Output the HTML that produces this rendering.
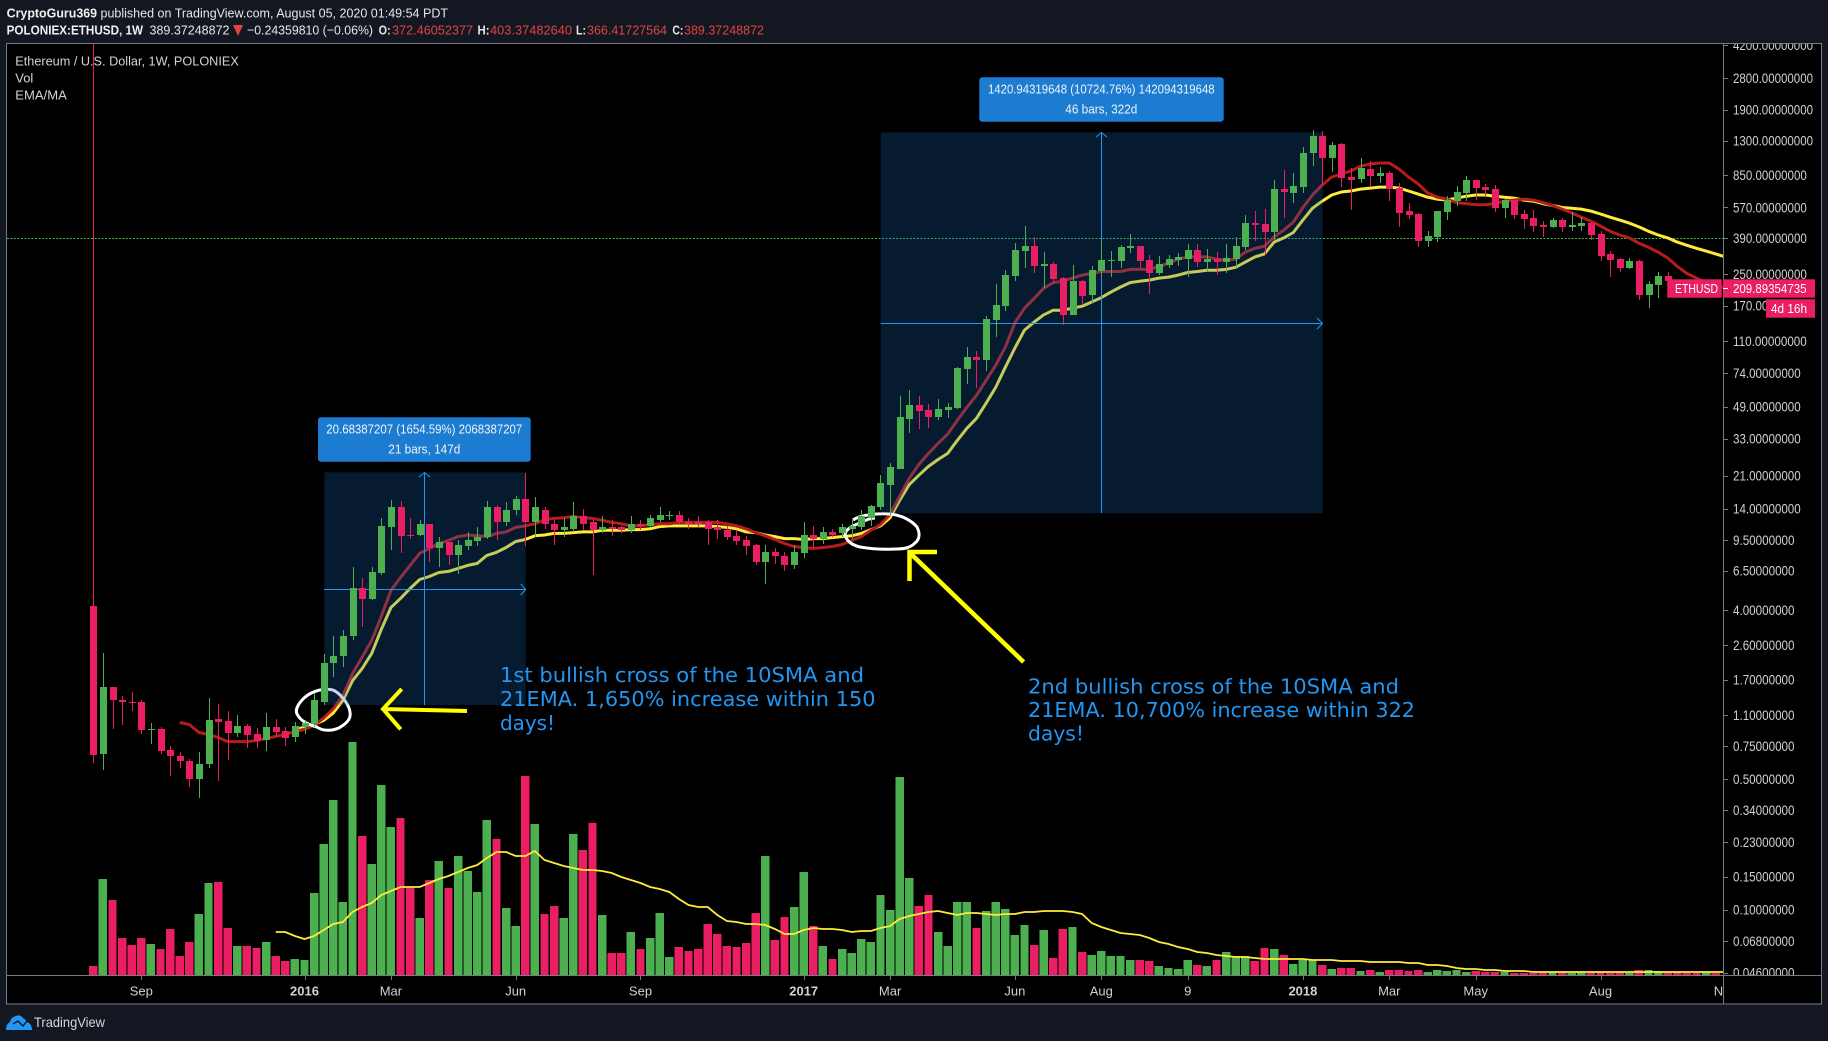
<!DOCTYPE html>
<html lang="en">
<head>
<meta charset="utf-8">
<title>ETHUSD weekly chart</title>
<style>
html,body{margin:0;padding:0;background:#131722;width:1828px;height:1041px;overflow:hidden}
svg{display:block;font-family:"Liberation Sans",sans-serif}
</style>
</head>
<body>
<svg id="chart" xmlns="http://www.w3.org/2000/svg" width="1828" height="1041" viewBox="0 0 1828 1041">
<defs>
<clipPath id="plotClip"><rect x="7" y="44" width="1716" height="931"/></clipPath>
<clipPath id="axisClip"><rect x="1724" y="44" width="97" height="931"/></clipPath>
<clipPath id="timeClip"><rect x="7" y="976" width="1716" height="28"/></clipPath>
</defs>
<rect x="0" y="0" width="1828" height="1041" fill="#131722"/>
<g font-size="13" fill="#e6e6e6">
<text x="6.6" y="17.5" font-weight="bold" fill="#f0f0f0" textLength="90.5" lengthAdjust="spacingAndGlyphs">CryptoGuru369</text>
<text x="100.5" y="17.5" textLength="347.5" lengthAdjust="spacingAndGlyphs">published on TradingView.com, August 05, 2020 01:49:54 PDT</text>
</g>
<g font-size="13" fill="#e6e6e6">
<text x="6.6" y="34.5" font-weight="bold" fill="#f0f0f0" textLength="136.5" lengthAdjust="spacingAndGlyphs">POLONIEX:ETHUSD, 1W</text>
<text x="149.5" y="34.5" textLength="80" lengthAdjust="spacingAndGlyphs">389.37248872</text>
<polygon points="233,25 243,25 238,36" fill="#e0443e"/>
<text x="247" y="34.5" textLength="126" lengthAdjust="spacingAndGlyphs">−0.24359810 (−0.06%)</text>
<text x="378.6" y="34.5" font-weight="bold" textLength="12" lengthAdjust="spacingAndGlyphs">O:</text>
<text x="392" y="34.5" fill="#e0443e" textLength="81" lengthAdjust="spacingAndGlyphs">372.46052377</text>
<text x="477.5" y="34.5" font-weight="bold" textLength="12" lengthAdjust="spacingAndGlyphs">H:</text>
<text x="490" y="34.5" fill="#e0443e" textLength="82" lengthAdjust="spacingAndGlyphs">403.37482640</text>
<text x="576" y="34.5" font-weight="bold" textLength="10" lengthAdjust="spacingAndGlyphs">L:</text>
<text x="587" y="34.5" fill="#e0443e" textLength="80" lengthAdjust="spacingAndGlyphs">366.41727564</text>
<text x="672.4" y="34.5" font-weight="bold" textLength="11" lengthAdjust="spacingAndGlyphs">C:</text>
<text x="684" y="34.5" fill="#e0443e" textLength="80" lengthAdjust="spacingAndGlyphs">389.37248872</text>
</g>
<rect x="6.5" y="43.5" width="1815" height="960.5" fill="#000" stroke="#787b86" stroke-width="1"/>
<g id="plot" clip-path="url(#plotClip)"></g>
<g id="axis"></g>
<g id="time"></g>
<g stroke="#787b86" stroke-width="1">
<line x1="1723.5" y1="44" x2="1723.5" y2="1004"/>
<line x1="7" y1="975.5" x2="1821" y2="975.5"/>
</g>
<g font-size="13" fill="#d1d4dc">
<text x="15.3" y="65.3" textLength="223.5" lengthAdjust="spacingAndGlyphs">Ethereum / U.S. Dollar, 1W, POLONIEX</text>
<text x="15.3" y="82.3" textLength="18" lengthAdjust="spacingAndGlyphs">Vol</text>
<text x="15.3" y="99.3" textLength="51.5" lengthAdjust="spacingAndGlyphs">EMA/MA</text>
</g>
<g font-size="13" fill="#fff">
<rect x="1667.3" y="279.3" width="54.4" height="18.4" fill="#e91e63"/>
<text x="1675" y="293" textLength="43" lengthAdjust="spacingAndGlyphs">ETHUSD</text>
<rect x="1723" y="279.3" width="92" height="18.4" fill="#e91e63"/>
<line x1="1723" y1="288.5" x2="1728" y2="288.5" stroke="#fff"/>
<text x="1733" y="293" textLength="73.5" lengthAdjust="spacingAndGlyphs">209.89354735</text>
<rect x="1766" y="299.3" width="49" height="18.4" fill="#e91e63"/>
<text x="1771" y="313.2" textLength="36" lengthAdjust="spacingAndGlyphs">4d 16h</text>
</g>
<g font-family="'DejaVu Sans',sans-serif" font-size="20" fill="#2196f3">
<text x="500" y="682.2" textLength="364" lengthAdjust="spacingAndGlyphs">1st bullish cross of the 10SMA and</text>
<text x="500" y="706.2" textLength="375.5" lengthAdjust="spacingAndGlyphs">21EMA. 1,650% increase within 150</text>
<text x="500" y="730" textLength="55" lengthAdjust="spacingAndGlyphs">days!</text>
<text x="1028" y="693.5" textLength="371" lengthAdjust="spacingAndGlyphs">2nd bullish cross of the 10SMA and</text>
<text x="1028" y="717" textLength="387" lengthAdjust="spacingAndGlyphs">21EMA. 10,700% increase within 322</text>
<text x="1028" y="740.5" textLength="56" lengthAdjust="spacingAndGlyphs">days!</text>
</g>
<g fill="none" stroke="#ffff00" stroke-width="4">
<path d="M467,711 L382,709 M401.7,689 L383,709 L400.7,729.3"/>
</g>
<g fill="none" stroke="#ffff00" stroke-width="4.5">
<path d="M1023.6,662 L911,554 M937,552 L909.5,552 L909.5,581"/>
</g>
<g>
<rect x="318" y="417.3" width="212.7" height="44.4" rx="3" fill="#1c7cd2"/>
<text x="424.3" y="433.3" text-anchor="middle" font-size="13" fill="#f2f2f2" textLength="196" lengthAdjust="spacingAndGlyphs">20.68387207 (1654.59%) 2068387207</text>
<text x="424.3" y="453.3" text-anchor="middle" font-size="13" fill="#f2f2f2" textLength="72" lengthAdjust="spacingAndGlyphs">21 bars, 147d</text>
</g>
<g>
<rect x="979.3" y="77.3" width="244.4" height="44.4" rx="3" fill="#1c7cd2"/>
<text x="1101.3" y="93.3" text-anchor="middle" font-size="13" fill="#f2f2f2" textLength="226.7" lengthAdjust="spacingAndGlyphs">1420.94319648 (10724.76%) 142094319648</text>
<text x="1101.3" y="113.3" text-anchor="middle" font-size="13" fill="#f2f2f2" textLength="72" lengthAdjust="spacingAndGlyphs">46 bars, 322d</text>
</g>
<g>
<path d="M6,1030 Q6,1024 10,1022 Q11,1017 16,1016 Q20,1014 23,1018 Q26,1020 27,1022 Q32,1024 32,1030 Z" fill="#2196f3"/>
<path d="M13,1024 L18,1021 L23,1026 L27,1021" fill="none" stroke="#131722" stroke-width="1.4"/>
<text x="34" y="1027" font-size="14" fill="#d6d6d6" textLength="71" lengthAdjust="spacingAndGlyphs">TradingView</text>
</g>
</svg>
<script>
// Weekly ETHUSD data. Index 0 is the first weekly bar.
const opens=[4.19,.685,1.56,1.33,1.30,1.29,.91,.922,.72,.661,.628,.503,.605,1.05,1.02,.877,.957,.867,.814,.945,.899,.835,.945,.98,1.30,2.10,2.27,2.90,5.23,4.57,6.29,11.2,14.3,10.1,10.1,11.5,8.66,9.22,7.86,8.77,9.33,9.8,14.2,11.9,13.7,15.7,11.9,13.7,11.6,10.7,10.9,12.7,11.8,10.7,11.1,11.1,10.7,11.5,11.3,12.1,12.8,13.0,11.9,11.8,11.8,11.2,10.8,10.0,9.45,8.88,7.21,8.16,7.76,6.95,8.06,10.1,9.56,10.5,10.3,10.9,11.2,12.5,14.3,18.8,22.9,42.0,50.0,46.9,43.0,46.9,48.1,77.8,90.2,86.9,143,169,245,333,354,276,283,239,152,230,194,260,294,294,345,354,298,253,280,298,302,337,291,302,291,302,349,470,465,419,715,681,733,1116,1373,1048,1243,830,809,915,840,870,724,545,526,376,397,538,616,681,799,733,715,565,624,526,500,459,449,488,449,454,470,412,322,302,269,294,194,220,245,230,223,217,209,212];
const highs=[5000,2.35,1.56,1.40,1.47,1.32,.992,.945,.756,.694,.644,.694,1.35,1.257,1.16,1.10,.98,.934,1.13,1.05,.945,1.005,1.04,1.45,2.32,2.90,3.12,6.78,5.92,6.78,12.5,15.5,15.3,12.4,12.2,11.5,9.8,9.22,9.45,10.5,11.1,15.3,14.7,15.1,16.3,21.6,16.1,14.3,12.2,12.5,15.1,14.0,12.1,12.7,12.1,11.3,12.8,12.2,13.0,14.3,13.5,13.5,12.5,12.8,12.1,12.1,11.3,10.7,10.0,8.99,8.88,8.66,8.16,8.88,11.9,11.3,11.1,10.9,11.6,12.2,13.7,14.7,21.1,24.4,55.8,60.0,55.8,50.6,53.7,51.2,79.7,102,97,149,223,263,367,454,397,329,290,242,280,233,276,381,333,358,412,354,317,313,317,325,363,363,341,329,363,397,519,545,559,799,904,870,1200,1480,1462,1275,1258,926,1048,1010,938,893,771,605,533,425,545,655,741,840,799,762,752,632,624,552,552,482,500,500,538,506,476,425,333,306,306,298,230,256,259,233,226,223,218,215];
const lows=[.613,.562,.922,.969,1.15,.867,.775,.685,.522,.573,.456,.398,.576,.491,.636,.835,.729,.738,.711,.835,.756,.794,.867,.945,1.24,1.76,2.00,2.76,3.24,4.51,6.14,8.45,8.06,9.56,10.0,7.21,6.78,6.95,6.22,8.36,8.77,9.67,9.45,11.3,13.0,8.77,9.8,10.9,8.88,9.8,10.5,10.8,6.14,10.4,10.0,10.4,10.4,10.8,11.1,11.8,12.2,11.6,10.9,11.1,8.88,9.56,9.45,8.88,7.86,6.95,5.56,7.03,6.45,6.61,7.57,8.66,8.99,9.9,9.8,9.56,10.7,11.3,13.8,13.0,22.7,35.4,37.1,37.6,41.5,42.5,47.5,64.7,61.5,75.9,116,159,230,269,253,211,226,134,152,173,176,242,243,269,325,269,196,248,269,276,243,273,259,248,253,266,337,376,317,381,500,600,681,948,751,880,733,552,770,741,770,616,449,494,349,349,372,488,580,616,624,656,538,500,494,437,419,397,443,419,425,425,381,294,243,256,266,182,165,188,226,206,187,206,204,205];
const closes=[.669,1.56,1.32,1.29,1.27,.91,.922,.711,.661,.628,.503,.605,1.04,1.005,.877,.957,.856,.804,.945,.888,.825,.957,.992,1.32,2.10,2.29,2.93,5.23,4.57,6.37,11.3,14.3,10.0,10.0,11.5,8.66,9.22,7.86,8.88,9.45,9.9,14.2,11.9,13.8,15.7,11.9,14.3,11.5,10.7,11.1,12.7,11.6,10.7,11.1,10.9,10.7,11.5,11.3,12.4,13.0,13.0,11.8,11.6,11.6,10.9,10.7,9.9,9.33,8.77,7.21,8.16,7.76,6.95,8.16,10.1,9.56,10.5,10.1,11.1,11.3,12.7,14.5,19.1,23.2,43.0,50.0,46.3,43.0,47.5,48.7,78.8,90.2,86.9,145,171,248,337,354,276,283,236,152,230,191,263,298,298,349,354,294,253,283,302,310,337,291,302,291,306,354,470,459,419,715,690,741,1116,1373,1048,1228,820,799,926,840,870,715,533,519,376,401,545,624,690,799,724,706,565,624,519,494,454,449,488,449,459,470,406,314,298,269,294,194,223,245,230,223,217,212,212,210];
const volumes=[9,96,75,37,30,37,31,26,46,19,33,61,92,93,47,29,29,27,33,19,14,16,15,82,131,175,73,233,139,111,190,148,157,87,57,95,114,87,119,104,83,155,136,67,49,199,151,61,69,57,141,125,152,60,22,22,43,26,37,62,18,28,24,26,51,41,29,28,32,62,119,35,58,68,103,49,29,16,26,22,36,33,80,65,198,97,69,80,43,29,73,73,47,64,73,66,40,50,30,45,17,46,48,23,20,24,19,19,15,15,14,9,7,6,15,10,9,15,23,19,19,14,27,26,20,11,15,15,10,6,7,7,4,5,3,5,5,4,5,3,5,4,5,3,4,3,3,3,2,2,2,3,3,3,2,3,2,3,2,3,2,5,5,4,3,3,2,2,3,2];
const sma10Start=9;
const sma10=[1.005,.98,.888,.867,.835,.794,.794,.794,.804,.825,.846,.867,.899,.922,.969,1.06,1.19,1.40,1.83,2.24,2.76,3.71,5.10,5.99,6.95,8.06,8.56,9.10,9.45,9.9,10.1,10.0,9.9,10.3,10.5,11.1,11.3,11.6,12.2,12.4,12.5,12.7,12.5,12.4,12.1,11.8,11.6,11.3,11.3,11.5,11.6,11.6,11.8,11.8,11.8,11.8,11.8,11.6,11.3,10.9,10.4,10.0,9.56,9.10,8.77,8.66,8.56,8.66,8.77,8.99,9.45,9.9,10.7,11.5,13.0,16.3,20.3,24.1,27.6,31.2,35.0,41.5,48.7,56.4,67.9,81.7,102,138,165,186,211,226,230,239,248,253,259,259,259,266,266,266,276,287,302,310,310,310,302,298,302,329,345,354,397,431,476,570,665,751,830,860,893,948,974,986,986,915,830,762,681,647,632,605,598,590,590,598,616,624,632,624,605,584,559,533,506,482,454,425,406,392,367,349,329,306,276,253,239,226,219,212];
const ema21Start=21;
const ema21=[.922,.945,.98,1.03,1.13,1.32,1.68,1.95,2.35,3.16,4.13,4.63,5.23,5.84,6.06,6.37,6.45,6.70,6.95,7.12,7.86,8.16,8.66,9.33,9.56,10.0,10.1,10.3,10.3,10.4,10.5,10.5,10.7,10.7,10.7,10.8,10.8,10.9,11.2,11.3,11.3,11.3,11.3,11.3,11.2,11.1,10.9,10.5,10.4,10.1,9.9,9.67,9.67,9.56,9.67,9.67,9.8,9.9,10.0,10.3,10.8,11.3,12.5,15.5,18.8,21.1,23.5,25.6,27.6,32.4,37.6,42.5,51.2,62.2,79.7,101,126,139,152,161,161,165,169,178,188,201,214,226,230,233,239,242,248,256,259,263,263,266,273,291,310,322,372,392,419,488,565,616,665,690,698,715,724,733,733,724,698,672,647,632,624,640,655,665,665,655,647,640,624,616,598,584,570,565,559,545,526,506,488,470,449,425,406,392,372,358,345,333,322,310];
const volMaStart=19;
const volMa=[43,43,39,36,39,45,51,53,63,68,72,80,84,88,88,88,92,96,99,103,107,110,117,123,123,119,119,124,115,112,109,107,105,105,104,102,98,95,92,88,86,83,76,70,68,68,60,54,53,51,51,50,46,41,41,45,47,46,46,45,43,44,44,47,49,56,59,61,63,64,62,60,62,62,61,60,61,61,63,63,64,64,64,63,61,52,48,45,42,41,40,37,33,31,28,26,23,22,20,19,18,18,17,16,16,16,16,16,15,15,15,14,14,14,13,13,13,13,12,12,10,10,9,7,6,6,5,5,4,4,4,3,3,3,3,3,3,3,3,3,3,3,3,3,3,3,3,3,3,3,3,3];
const priceTicks=[4200,2800,1900,1300,850,570,390,250,170,110,74,49,33,21,14,9.5,6.5,4,2.6,1.7,1.1,.75,.5,.34,.23,.15,.1,.068,.046];
const timeTickBars=[5,22,31,44,57,74,83,96,105,114,126,135,144,157,170];
const timeTickLabels=["Sep","2016","Mar","Jun","Sep","2017","Mar","Jun","Aug","9","2018","Mar","May","Aug","Nov"];

const UP="#4caf50", DOWN="#e91e63", NS="http://www.w3.org/2000/svg";
const barX=i=>93.3+9.6*i;
const priceY=p=>238.3+187*(Math.log10(390)-Math.log10(p));
const volY=v=>975-v;

function el(tag,attrs,parent){
  const n=document.createElementNS(NS,tag);
  for(const k in attrs)n.setAttribute(k,attrs[k]);
  parent.appendChild(n);
  return n;
}
function pathFrom(values,start,yFn){
  return values.map((v,k)=>(k?"L":"M")+barX(start+k).toFixed(1)+","+yFn(v).toFixed(1)).join(" ");
}
const plot=document.getElementById("plot");
const axis=document.getElementById("axis");
const time=document.getElementById("time");

// volume bars
const volGroup=el("g",{"shape-rendering":"crispEdges"},plot);


volumes.forEach((v,i)=>{
  const r=el("rect",{x:(barX(i)-4.2).toFixed(1),y:volY(v).toFixed(1),width:8.4,height:v,fill:closes[i]>=opens[i]?UP:DOWN},volGroup);
  
  
});

// price level dotted line
const level=el("line",{x1:7,x2:1723,y1:238.5,y2:238.5,stroke:"#4caf50","stroke-width":1,"stroke-dasharray":"2 1.5"},plot);



// moving averages
const vm=el("path",{d:pathFrom(volMa,volMaStart,volY),fill:"none",stroke:"#ffeb3b","stroke-width":1.8},plot);


const ema=el("path",{d:pathFrom(ema21,ema21Start,priceY),fill:"none",stroke:"#ffeb3b","stroke-width":3,"stroke-linejoin":"round"},plot);


const sma=el("path",{d:pathFrom(sma10,sma10Start,priceY),fill:"none",stroke:"#b71c1c","stroke-width":3,"stroke-linejoin":"round"},plot);



// hand-drawn circles
const c1=el("path",{d:"M333,690 C325,688 313,690 304,698 C298,704 295,710 297,714 C301,722 310,725 317,727 C322,731 334,732 342,726 C348,722 351,718 350,712 C349,704 340,693 333,690",fill:"none",stroke:"#fff","stroke-width":3},plot);


const c2=el("path",{d:"M853,520 C860,515 878,513 890,514 C902,515 912,521 917,527 C920,533 920,539 915,543 C910,548 904,549 896,549 C880,550 866,548 860,547 C852,545 846,541 845,534 C846,529 852,526 860,523 C866,520 870,518 875,518",fill:"none",stroke:"#fff","stroke-width":3},plot);



// measure rectangles
const r1=el("rect",{x:324.3,y:472.3,width:201.4,height:232.7,fill:"rgb(24,108,188)","fill-opacity":.25},plot);


const r2=el("rect",{x:880.7,y:132.3,width:442,height:381,fill:"rgb(24,108,188)","fill-opacity":.25},plot);


const m1=el("path",{d:"M324,589.5 H525.5 M520.7,584 L525.7,589.5 L520.7,595 M424.5,705 V472.5 M419,477 L424.5,472.5 L430,477",fill:"none",stroke:"#2196f3","stroke-width":1},plot);


const m2=el("path",{d:"M880.7,323.5 H1322 M1317,318 L1322.5,323.5 L1317,329 M1101.5,513 V132.5 M1096,137 L1101.5,132.5 L1107,137",fill:"none",stroke:"#2196f3","stroke-width":1},plot);



// candles
const candleGroup=el("g",{"shape-rendering":"crispEdges"},plot);


opens.forEach((o,i)=>{
  const c=closes[i], col=c>=o?UP:DOWN, x=Math.round(barX(i));
  const top=Math.round(priceY(Math.max(o,c))), bot=Math.round(priceY(Math.min(o,c)));
  const wt=Math.round(priceY(highs[i])), wb=Math.round(priceY(lows[i]));
  const g=el("g",{fill:col},candleGroup);
  
  
  el("rect",{x:x,y:wt,width:1,height:Math.max(1,wb-wt)},g);
  el("rect",{x:x-3,y:top,width:7,height:Math.max(1,bot-top)},g);
});

// price axis
const axisText=el("g",{"clip-path":"url(#axisClip)","font-size":13.5,fill:"#cfd1d6"},axis);


priceTicks.forEach(p=>{
  const y=priceY(p), label=p.toFixed(8);
  const t=el("line",{x1:1723,x2:1728,y1:Math.round(y)+.5,y2:Math.round(y)+.5,stroke:"#787b86"},axis);
  
  
  const tx=el("text",{x:1733,y:(y+4.8).toFixed(1),textLength:(label.length*6.15).toFixed(1),lengthAdjust:"spacingAndGlyphs"},axisText);
  
  
  tx.textContent=label;
});

// time axis
const timeText=el("g",{"clip-path":"url(#timeClip)","font-size":13,fill:"#cfd1d6","text-anchor":"middle"},time);


timeTickBars.forEach((b,k)=>{
  const x=barX(b);
  if(x<1723){
    const t=el("line",{x1:Math.round(x)+.5,x2:Math.round(x)+.5,y1:975,y2:980,stroke:"#787b86"},time);
    
    
  }
  const bold=/^\d{4}$/.test(timeTickLabels[k]);
  const tx=el("text",{x:x.toFixed(1),y:995.5,"font-weight":bold?"bold":"normal"},timeText);
  
  
  tx.textContent=timeTickLabels[k];
});
</script>
</body>
</html>
